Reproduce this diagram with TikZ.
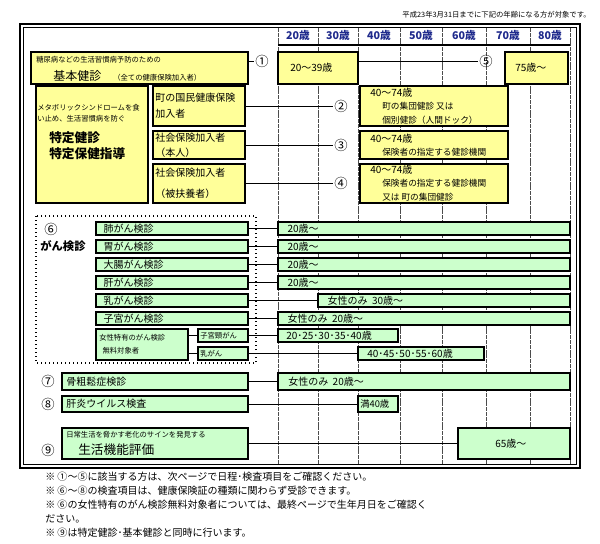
\documentclass[tikz,border=0pt]{standalone}
\usepackage{fontspec}
\setmainfont{Noto Sans CJK JP}
\usetikzlibrary{calc}
\definecolor{yel}{HTML}{FFFF99}
\definecolor{grn}{HTML}{CCFFCC}
\definecolor{hdr}{HTML}{1F2A8C}
\tikzset{box/.style={draw=black,line width=1pt,inner sep=0pt,rectangle},
 txt/.style={inner sep=0pt,anchor=west,font=\fontsize{7.5}{9}\selectfont},
 stxt/.style={inner sep=0pt,anchor=west,font=\fontsize{5.5}{7}\selectfont},
 circ/.style={inner sep=0.5pt,font=\fontsize{10}{10}\selectfont},
 conn/.style={draw=black,line width=0.6pt},
 col/.style={draw=black!70,line width=0.4pt,dash pattern=on 3pt off 0.6pt}}
\newcommand\bx[6]{\node[box,fill=#6,minimum width={(#4-#2)*0.75pt},minimum height={(#5-#3)*0.75pt}] (#1) at ({(#2+#4)/2},{(#3+#5)/2}) {};}
\begin{document}
\begin{tikzpicture}[x=0.75pt,y=-0.75pt]
\useasboundingbox (0,0) rectangle (600,543);
\node[inner sep=0pt,anchor=east,font=\fontsize{5.5}{7}\selectfont] (note) at (591,15) {平成23年3月31日までに下記の年齢になる方が対象です。};
% frame
\draw[line width=1.2pt] (20,24) rectangle (580,468);
\draw[line width=0.6pt] (23.5,27.5) rectangle (576.5,464.5);
% columns
\foreach \x in {278,318,358,400,442,486,530,570} \draw[col] (\x,28) -- (\x,464);
\draw[line width=0.8pt] (278,45) -- (570,45);
\foreach \x/\a in {298/20,338/30,379/40,421/50,464/60,508/70,550/80}
  \node[inner sep=0pt,font=\bfseries\fontsize{8}{9}\selectfont,text=hdr] (h\a) at (\x,35) {\a 歳};
% row 1
\bx{b1}{31}{52}{248}{84}{yel}
\node[stxt] (b1a) at (36,60) {糖尿病などの生活習慣病予防のための};
\node[txt] (b1b) at (53,76) {\fontsize{9}{10}\selectfont 基本健診\quad{\fontsize{5.5}{7}\selectfont （全ての健康保険加入者）}};
\node[circ] (c1) at (262,61) {①};
\bx{r1}{278}{52}{358}{84}{yel}
\node[txt] (r1t) at (290,68) {20～39歳};
\node[circ] (c5) at (486,61) {⑤};
\bx{r5}{505}{52}{568}{84}{yel}
\node[txt] (r5t) at (515,68) {75歳～};
\draw[conn] (b1.east|-c1) -- (c1);
\draw[conn] (r1.east|-c5) -- (c5);
% row 2
\bx{big}{36}{86}{148}{203}{yel}
\node[stxt,align=left,font=\fontsize{5.5}{8}\selectfont] (bigt) at (37,113) {メタボリックシンドロームを食\\い止め、生活習慣病を防ぐ};
\node[txt,align=left,font=\bfseries\fontsize{9.5}{12}\selectfont] (bigb) at (49,146) {特定健診\\特定保健指導};
\bx{s2}{153}{86}{245}{126}{yel}
\bx{s3}{153}{131}{245}{159}{yel}
\bx{s4}{153}{164}{245}{203}{yel}
\node[txt,align=left,font=\fontsize{7.5}{12}\selectfont] (s2t) at (155,106) {町の国民健康保険\\加入者};
\node[txt,align=left,font=\fontsize{7.5}{11}\selectfont] (s3t) at (155,145) {社会保険加入者\\ （本人）};
\node[txt,align=left,font=\fontsize{7.5}{16}\selectfont] (s4t) at (155,183) {社会保険加入者\\ （被扶養者）};
\bx{r2}{360}{86}{508}{126}{yel}
\bx{r3}{360}{131}{508}{159}{yel}
\bx{r4}{360}{164}{508}{203}{yel}
\node[txt,align=left,font=\fontsize{7.5}{10}\selectfont] (r2t) at (370,106) {40～74歳\\ \hspace{1.2em}{\fontsize{6.5}{10}\selectfont 町の集団健診 又は}\\ \hspace{1.2em}{\fontsize{6.5}{10}\selectfont 個別健診（人間ドック）}};
\node[txt,align=left,font=\fontsize{7.5}{10}\selectfont] (r3t) at (370,145) {40～74歳\\ \hspace{1.2em}{\fontsize{6.5}{10}\selectfont 保険者の指定する健診機関}};
\node[txt,align=left,font=\fontsize{7.5}{10}\selectfont] (r4t) at (370,183) {40～74歳\\ \hspace{1.2em}{\fontsize{6.5}{10}\selectfont 保険者の指定する健診機関}\\ \hspace{1.2em}{\fontsize{6.5}{10}\selectfont 又は 町の集団健診}};
\node[circ] (c2) at (341,106) {②};
\node[circ] (c3) at (341,145) {③};
\node[circ] (c4) at (341,183) {④};
\draw[conn] (s2.east|-c2) -- (c2);
\draw[conn] (s3.east|-c3) -- (c3);
\draw[conn] (s4.east|-c4) -- (c4);
% cancer group
\draw[line width=1pt,dotted] (36,216) rectangle (256,363);
\node[circ] (c6) at (51,229) {⑥};
\node[txt,font=\bfseries\fontsize{8.5}{10}\selectfont] (gk) at (40,246) {がん検診};
\foreach \n/\ya/\yb/\t/\xs/\r in {g1/222/235/肺がん検診/278/20歳～, g2/240/253/胃がん検診/278/20歳～, g3/258/271/大腸がん検診/278/20歳～, g4/276/289/肝がん検診/278/20歳～, g5/294/307/乳がん検診/318/女性のみ\ \ 30歳～, g6/312/325/子宮がん検診/278/女性のみ\ \ 20歳～}{
  \bx{\n}{96}{\ya}{248}{\yb}{grn}
  \bx{\n r}{\xs}{\ya}{570}{\yb}{grn}
  \draw[conn] (\n.east) -- (\n r.west);
  \node[txt] at ($(\n.west)+(8,0)$) {\t};
  \node[txt] at ($(\n r.west)+(10,0)$) {\r};
}
\bx{fb}{96}{329}{188}{360}{grn}
\node[stxt,align=left,font=\fontsize{5.5}{10}\selectfont] (fbt) at (99,344) {女性特有のがん検診\\\ \ 無料対象者};
\bx{fk}{198}{329}{248}{342}{grn}
\bx{fn}{198}{347}{248}{360}{grn}
\node[stxt] (fkt) at (200,335.5) {子宮頸がん};
\node[stxt] (fnt) at (200,353.5) {乳がん};
\draw[conn] (fb.east|-fk) -- (fk.west);
\draw[conn] (fb.east|-fn) -- (fn.west);
\bx{fkr}{278}{329}{398}{342}{grn}
\bx{fnr}{358}{347}{484}{360}{grn}
\node[txt] (fkrt) at (286,335.5) {20･25･30･35･40歳};
\node[txt] (fnrt) at (367,353.5) {40･45･50･55･60歳};
\draw[conn] (fk.east) -- (fkr.west);
\draw[conn] (fn.east) -- (fnr.west);
% 7 8 9
\node[circ] (c7) at (48,381) {⑦};
\bx{b7}{62}{373}{248}{390}{grn}
\node[txt] (b7t) at (66,381.5) {骨粗鬆症検診};
\bx{r7}{278}{373}{570}{390}{grn}
\node[txt] (r7t) at (288,381.5) {女性のみ\ \ 20歳～};
\draw[conn] (b7) -- (r7);
\node[circ] (c8) at (48,404) {⑧};
\bx{b8}{62}{396}{248}{412}{grn}
\node[txt] (b8t) at (66,404) {肝炎ウイルス検査};
\bx{r8}{358}{396}{398}{412}{grn}
\node[txt,font=\fontsize{7}{8}\selectfont] (r8t) at (360,404) {満40歳};
\draw[conn] (b8) -- (r8);
\node[circ] (c9) at (48,450) {⑨};
\bx{b9}{62}{428}{248}{459}{grn}
\node[stxt] (b9a) at (66,435) {日常生活を脅かす老化のサインを発見する};
\node[txt,font=\fontsize{9.5}{10}\selectfont] (b9b) at (78,450) {生活機能評価};
\bx{r9}{458}{428}{570}{459}{grn}
\node[txt] (r9t) at (495,443.5) {65歳～};
\draw[conn] (b9) -- (r9);
% footnotes
\node[inner sep=0pt,anchor=north west,align=left,font=\fontsize{7.5}{10.5}\selectfont] (foot) at (45,472) {※ ①～⑤に該当する方は、次ページで日程･検査項目をご確認ください。\\※ ⑥～⑧の検査項目は、健康保険証の種類に関わらず受診できます。\\※ ⑥の女性特有のがん検診無料対象者については、最終ページで生年月日をご確認く\\ださい。\\※ ⑨は特定健診･基本健診と同時に行います。};
\end{tikzpicture}
\end{document}
